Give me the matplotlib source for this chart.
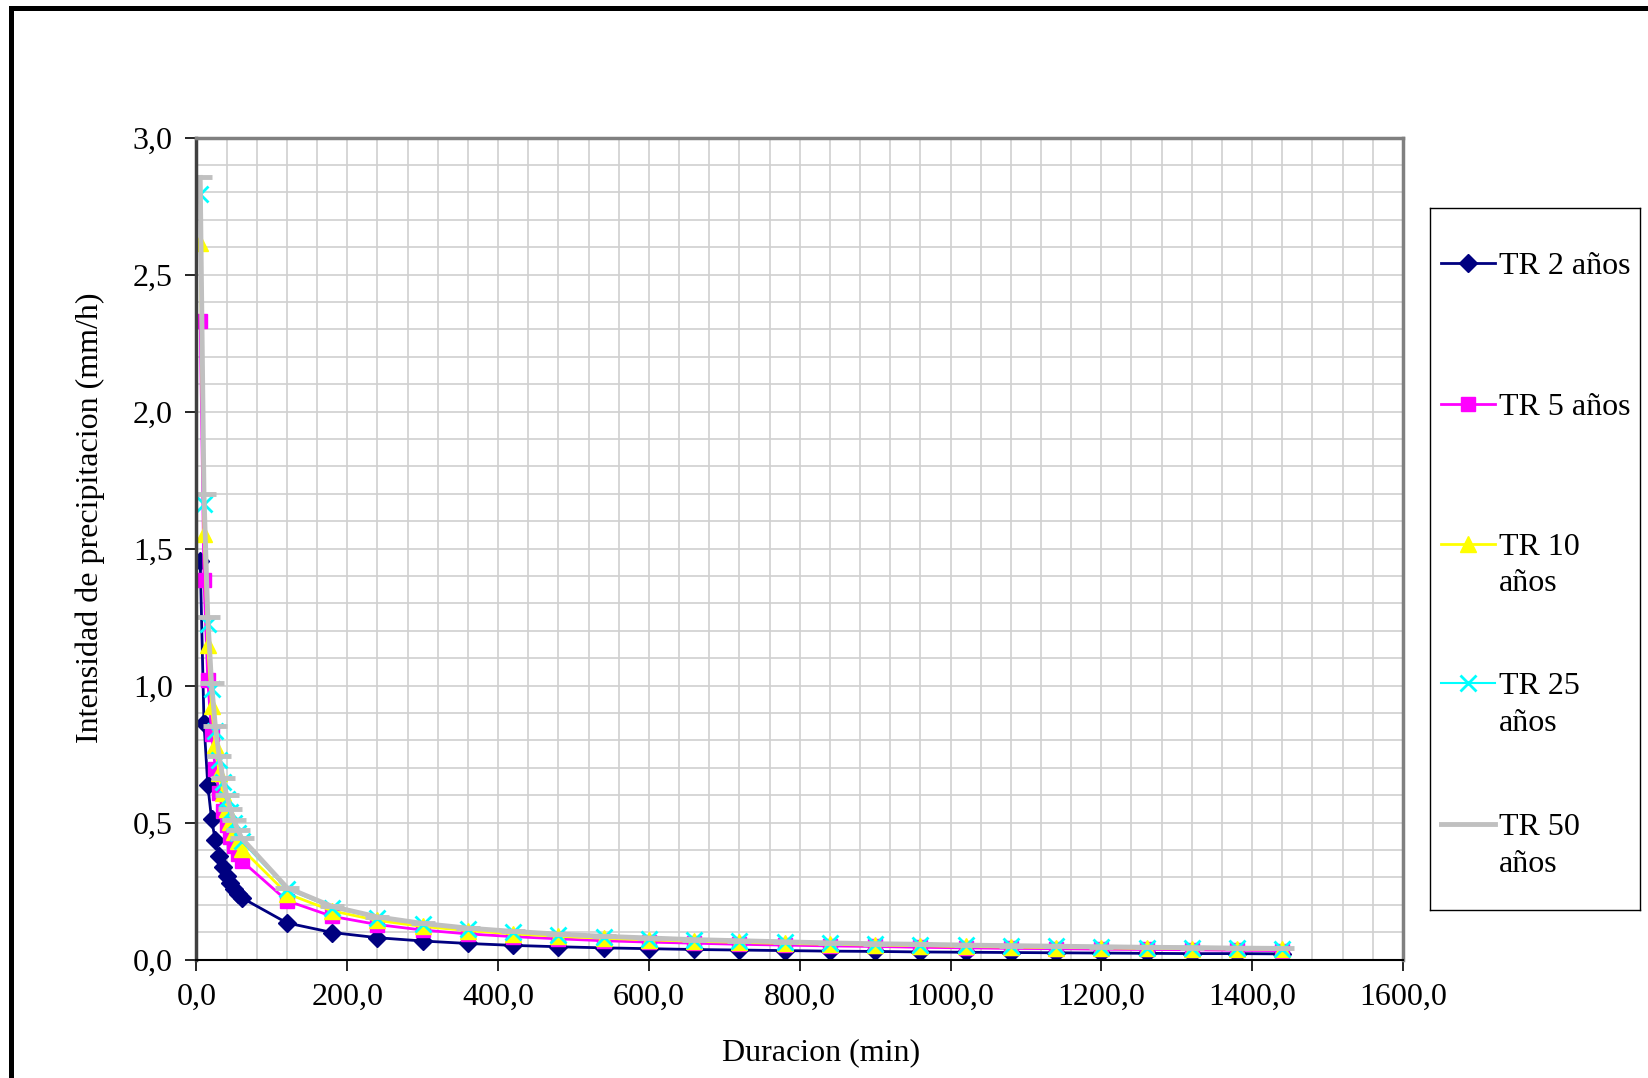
import numpy as np
import matplotlib
matplotlib.use("Agg")
import matplotlib.pyplot as plt
from matplotlib.lines import Line2D
from matplotlib.ticker import MultipleLocator, FuncFormatter

plt.rcParams['font.family'] = ['Liberation Serif', 'DejaVu Serif']

# duracion (min)
duracion = [5, 10, 15, 20, 25, 30, 35, 40, 45, 50, 55, 60,
            120, 180, 240, 300, 360, 420, 480, 540, 600, 660, 720, 780,
            840, 900, 960, 1020, 1080, 1140, 1200, 1260, 1320, 1380, 1440]

# intensidad (mm/h) por periodo de retorno
tr2 = [1.455, 0.865, 0.638, 0.514, 0.435, 0.380, 0.338, 0.306, 0.280, 0.259, 0.241, 0.226,
       0.134, 0.099, 0.080, 0.068, 0.059, 0.052, 0.047, 0.043, 0.040, 0.037, 0.035, 0.033,
       0.031, 0.030, 0.028, 0.027, 0.026, 0.025, 0.024, 0.023, 0.022, 0.022, 0.021]
tr5 = [2.330, 1.385, 1.022, 0.824, 0.697, 0.608, 0.541, 0.490, 0.449, 0.414, 0.386, 0.361,
       0.215, 0.158, 0.128, 0.108, 0.094, 0.084, 0.076, 0.069, 0.064, 0.060, 0.056, 0.053,
       0.050, 0.048, 0.045, 0.043, 0.041, 0.040, 0.038, 0.037, 0.036, 0.034, 0.033]
tr10 = [2.615, 1.555, 1.147, 0.925, 0.782, 0.682, 0.607, 0.550, 0.503, 0.465, 0.433, 0.405,
        0.241, 0.178, 0.143, 0.121, 0.106, 0.094, 0.085, 0.078, 0.072, 0.067, 0.063, 0.059,
        0.056, 0.053, 0.051, 0.048, 0.046, 0.044, 0.043, 0.041, 0.040, 0.039, 0.037]
tr25 = [2.795, 1.662, 1.226, 0.988, 0.836, 0.729, 0.649, 0.588, 0.538, 0.497, 0.463, 0.433,
        0.258, 0.190, 0.153, 0.130, 0.113, 0.101, 0.091, 0.083, 0.077, 0.072, 0.067, 0.063,
        0.060, 0.057, 0.054, 0.052, 0.050, 0.048, 0.046, 0.044, 0.043, 0.041, 0.040]
tr50 = [2.855, 1.698, 1.252, 1.009, 0.854, 0.745, 0.663, 0.600, 0.550, 0.508, 0.473, 0.443,
        0.263, 0.194, 0.156, 0.132, 0.115, 0.103, 0.093, 0.085, 0.079, 0.073, 0.069, 0.065,
        0.061, 0.058, 0.056, 0.053, 0.051, 0.049, 0.047, 0.045, 0.044, 0.042, 0.041]

labels = ["TR 2 años", "TR 5 años", "TR 10\naños", "TR 25\naños", "TR 50\naños"]

# style per series: colour, marker, marker size, line width
styles = [
    ("#000080", "D", 9, 2.0),
    ("#FF00FF", "s", 10, 2.0),
    ("#FFFF00", "^", 11, 2.0),
    ("#00FFFF", "x", 11, 1.5),
    ("#C0C0C0", "_", 17, 3.5),
]

fs = 23

fig = plt.figure(figsize=(16.48, 10.78), dpi=100)
ax = fig.add_axes([0.1192, 0.1098, 0.7321, 0.7625])

series = [tr2, tr5, tr10, tr25, tr50]
for vals, (col, mk, ms, lw) in zip(series, styles):
    mew = 2.0 if mk == "x" else (3.5 if mk == "_" else 1.0)
    ax.plot(duracion, vals, color=col, marker=mk, markersize=ms, linewidth=lw,
            markeredgecolor=col, markerfacecolor=col, markeredgewidth=mew)

ax.set_xlim(0, 1600)
ax.set_ylim(0, 3.0)
ax.xaxis.set_major_locator(MultipleLocator(200))
ax.xaxis.set_minor_locator(MultipleLocator(40))
ax.yaxis.set_major_locator(MultipleLocator(0.5))
ax.yaxis.set_minor_locator(MultipleLocator(0.1))
comma = FuncFormatter(lambda v, p: f"{v:.1f}".replace(".", ","))
ax.xaxis.set_major_formatter(comma)
ax.yaxis.set_major_formatter(comma)

ax.grid(True, which="both", color="#d0d0d0", linewidth=1.2)
ax.set_axisbelow(True)
ax.tick_params(which="major", direction="out", length=8, width=1.2, color="black",
               labelsize=fs, pad=9)
ax.tick_params(which="minor", length=0)
ax.tick_params(top=False, right=False)

ax.spines["bottom"].set_color("black")
ax.spines["bottom"].set_linewidth(1.5)
ax.spines["left"].set_color("#404040")
ax.spines["left"].set_linewidth(2.5)
for s in ("top", "right"):
    ax.spines[s].set_color("#808080")
    ax.spines[s].set_linewidth(2.5)

ax.set_xlabel("Duracion (min)", fontsize=fs, labelpad=18)
ax.set_ylabel("Intensidad de precipitacion (mm/h)", fontsize=fs, labelpad=20)
ax.xaxis.set_label_coords(0.518, -0.095)
ax.yaxis.label.set_y(0.538)

# legend box drawn as its own small axes
lax = fig.add_axes([0.8677, 0.1558, 0.1273, 0.6512])
lax.set_xlim(0, 1)
lax.set_ylim(0, 1)
lax.set_xticks([])
lax.set_yticks([])
for s in lax.spines.values():
    s.set_color("black")
    s.set_linewidth(1.0)
ypos = [0.922, 0.721, 0.522, 0.323, 0.122]
for y, lab, (col, mk, ms, lw) in zip(ypos, labels, styles):
    lax.plot([0.053, 0.308], [y, y], color=col, linewidth=lw)
    mew = 2.0 if mk == "x" else 1.0
    if mk != "_":
        lax.plot([0.18], [y], color=col, marker=mk, markersize=ms,
                 markeredgecolor=col, markeredgewidth=mew)
    for i, ln in enumerate(lab.split("\n")):
        lax.text(0.33, y - i * 0.052, ln, fontsize=fs, va="center_baseline", ha="left")

# outer chart-area frame (cut at right and bottom)
fig.add_artist(Line2D([0.0067, 0.0067], [0.0, 0.9926], transform=fig.transFigure,
                      color="black", linewidth=3.6))
fig.add_artist(Line2D([0.0067, 1.0], [0.9926, 0.9926], transform=fig.transFigure,
                      color="black", linewidth=3.6))

fig.savefig("out.png", dpi=100)
